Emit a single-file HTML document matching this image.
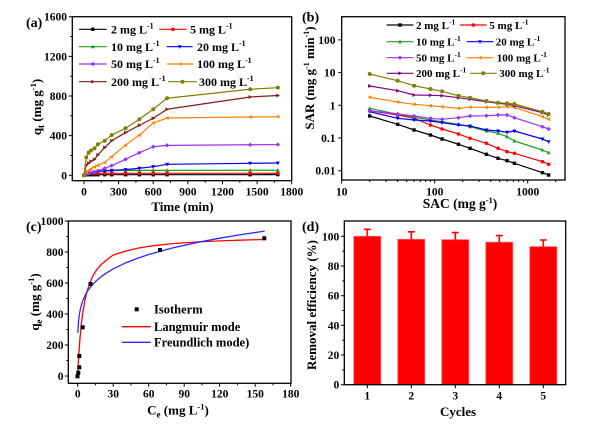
<!DOCTYPE html>
<html><head><meta charset="utf-8"><style>html,body{margin:0;padding:0;background:#fff;}svg{display:block}</style></head>
<body>
<svg width="600" height="427" viewBox="0 0 600 427" xmlns="http://www.w3.org/2000/svg" font-family="'Liberation Serif', serif" font-weight="bold">
<rect width="600" height="427" fill="#fff"/>
<defs>
<marker id="kS" viewBox="-3 -3 6 6" markerWidth="6" markerHeight="6" refX="0" refY="0" markerUnits="userSpaceOnUse" overflow="visible"><rect x="-1.7" y="-1.7" width="3.4" height="3.4" fill="#000"/></marker>
<marker id="rC" viewBox="-3 -3 6 6" markerWidth="6" markerHeight="6" refX="0" refY="0" markerUnits="userSpaceOnUse" overflow="visible"><circle r="1.8" fill="#ff0000"/></marker>
<marker id="gT" viewBox="-3 -3 6 6" markerWidth="6" markerHeight="6" refX="0" refY="0" markerUnits="userSpaceOnUse" overflow="visible"><polygon points="0,-2.2 2,1.5 -2,1.5" fill="#1f9f1f"/></marker>
<marker id="bD" viewBox="-3 -3 6 6" markerWidth="6" markerHeight="6" refX="0" refY="0" markerUnits="userSpaceOnUse" overflow="visible"><polygon points="0,2.2 2,-1.5 -2,-1.5" fill="#0000ff"/></marker>
<marker id="vD" viewBox="-3 -3 6 6" markerWidth="6" markerHeight="6" refX="0" refY="0" markerUnits="userSpaceOnUse" overflow="visible"><polygon points="0,-2.2 2.2,0 0,2.2 -2.2,0" fill="#9b30ff"/></marker>
<marker id="oL" viewBox="-3 -3 6 6" markerWidth="6" markerHeight="6" refX="0" refY="0" markerUnits="userSpaceOnUse" overflow="visible"><polygon points="-2.2,0 1.6,-2 1.6,2" fill="#ff8000"/></marker>
<marker id="mR" viewBox="-3 -3 6 6" markerWidth="6" markerHeight="6" refX="0" refY="0" markerUnits="userSpaceOnUse" overflow="visible"><polygon points="2.2,0 -1.6,-2 -1.6,2" fill="#8b1a1a"/></marker>
<marker id="pR" viewBox="-3 -3 6 6" markerWidth="6" markerHeight="6" refX="0" refY="0" markerUnits="userSpaceOnUse" overflow="visible"><polygon points="2.2,0 -1.6,-2 -1.6,2" fill="#800080"/></marker>
<marker id="lH" viewBox="-3 -3 6 6" markerWidth="6" markerHeight="6" refX="0" refY="0" markerUnits="userSpaceOnUse" overflow="visible"><circle r="2" fill="#808000"/></marker>
</defs>

<!-- ================= Panel (a) ================= -->
<g fill="none" stroke-width="1.2" stroke-linejoin="round">
<polyline stroke="#000" marker-start="url(#kS)" marker-mid="url(#kS)" marker-end="url(#kS)" points="84,175.3 86.31,174.7 88.62,174.7 90.92,174.7 94.39,174.7 97.85,174.7 104.77,174.7 111.69,174.7 125.54,174.7 139.39,174.7 153.23,174.7 167.08,174.7 250.16,174.7 277.86,174.6"/>
<polyline stroke="#ff0000" marker-start="url(#rC)" marker-mid="url(#rC)" marker-end="url(#rC)" points="84,175.3 86.31,173.91 88.62,173.52 90.92,173.32 94.39,173.32 97.85,173.32 104.77,173.32 111.69,173.32 125.54,173.32 139.39,173.32 153.23,173.32 167.08,173.32 250.16,173.32 277.86,173.22"/>
<polyline stroke="#1f9f1f" marker-start="url(#gT)" marker-mid="url(#gT)" marker-end="url(#gT)" points="84,175.3 86.31,173.71 88.62,173.22 90.92,172.72 94.39,172.13 97.85,171.53 104.77,170.94 111.69,170.54 125.54,170.34 139.39,170.34 153.23,170.34 167.08,170.34 250.16,170.24 277.86,170.24"/>
<polyline stroke="#0000ff" marker-start="url(#bD)" marker-mid="url(#bD)" marker-end="url(#bD)" points="84,175.3 86.31,174.31 88.62,173.81 90.92,173.32 94.39,172.33 97.85,171.53 104.77,170.84 111.69,170.34 125.54,169.65 139.39,168.26 153.23,166.68 167.08,164.30 250.16,163.31 277.86,163.01"/>
<polyline stroke="#9b30ff" marker-start="url(#vD)" marker-mid="url(#vD)" marker-end="url(#vD)" points="84,175.3 86.31,174.11 88.62,173.32 90.92,172.52 94.39,171.83 97.85,170.84 104.77,168.36 111.69,165.68 125.54,159.34 139.39,152.70 153.23,146.75 167.08,145.36 250.16,144.77 277.86,144.57"/>
<polyline stroke="#ff8000" marker-start="url(#oL)" marker-mid="url(#oL)" marker-end="url(#oL)" points="84,175.3 86.31,171.83 88.62,170.34 90.92,168.86 94.39,166.87 97.85,165.39 104.77,162.41 111.69,156.66 125.54,145.07 139.39,135.15 153.23,123.06 167.08,118.00 250.16,117.01 277.86,116.81"/>
<polyline stroke="#8b1a1a" marker-start="url(#mR)" marker-mid="url(#mR)" marker-end="url(#mR)" points="84,175.3 86.31,165.09 88.62,163.31 90.92,161.42 94.39,159.34 97.85,154.98 104.77,147.54 111.69,140.70 125.54,132.67 139.39,125.24 153.23,118.30 167.08,109.28 250.16,96.99 277.86,95.50"/>
<polyline stroke="#808000" marker-start="url(#lH)" marker-mid="url(#lH)" marker-end="url(#lH)" points="84,175.3 86.31,157.36 88.62,152.70 90.92,150.52 94.39,148.34 97.85,144.27 104.77,140.70 111.69,135.05 125.54,128.31 139.39,119.29 153.23,109.28 167.08,98.28 250.16,89.25 277.86,87.67"/>
</g>
<rect x="72.3" y="16.7" width="219.4" height="164" fill="none" stroke="#000" stroke-width="1.3"/>
<path stroke="#000" stroke-width="1" fill="none" d="M72.3,175.3H68.8M72.3,135.65H68.8M72.3,96H68.8M72.3,56.34H68.8M72.3,16.7H68.8M72.3,155.5H70.3M72.3,115.8H70.3M72.3,76.2H70.3M72.3,36.5H70.3M84,180.7V184.2M118.6,180.7V184.2M153.2,180.7V184.2M187.85,180.7V184.2M222.5,180.7V184.2M257.1,180.7V184.2M291.7,180.7V184.2M101.3,180.7V182.7M135.9,180.7V182.7M170.5,180.7V182.7M205.2,180.7V182.7M239.8,180.7V182.7M274.4,180.7V182.7"/>
<g font-size="11.5" text-anchor="end" fill="#000">
<text x="67" y="179.3">0</text><text x="67" y="139.65">400</text><text x="67" y="100">800</text><text x="67" y="60.3">1200</text><text x="67" y="20.7">1600</text>
</g>
<g font-size="11.5" text-anchor="middle" fill="#000">
<text x="84" y="195.5">0</text><text x="118.6" y="195.5">300</text><text x="153.2" y="195.5">600</text><text x="187.85" y="195.5">900</text><text x="222.5" y="195.5">1200</text><text x="257.1" y="195.5">1500</text><text x="291.7" y="195.5">1800</text>
</g>
<text x="182.5" y="211" font-size="13" text-anchor="middle">Time (min)</text>
<text transform="translate(41,107) rotate(-90)" font-size="13" text-anchor="middle">q<tspan font-size="9" dy="3">t</tspan><tspan dy="-3"> (mg g</tspan><tspan font-size="8.5" dy="-5">-1</tspan><tspan dy="5">)</tspan></text>
<text x="26" y="27" font-size="14">(a)</text>
<!-- legend a -->
<g fill="none" stroke-width="1.2">
<polyline stroke="#000" marker-mid="url(#kS)" points="79,29.3 92.85,29.3 106.7,29.3"/>
<polyline stroke="#ff0000" marker-mid="url(#rC)" points="159.3,29.3 173,29.3 186.7,29.3"/>
<polyline stroke="#1f9f1f" marker-mid="url(#gT)" points="79,46.7 92.85,46.7 106.7,46.7"/>
<polyline stroke="#0000ff" marker-mid="url(#bD)" points="166.7,46.7 179.7,46.7 192.7,46.7"/>
<polyline stroke="#9b30ff" marker-mid="url(#vD)" points="79,64 92.85,64 106.7,64"/>
<polyline stroke="#ff8000" marker-mid="url(#oL)" points="166.7,64 180,64 193.3,64"/>
<polyline stroke="#8b1a1a" marker-mid="url(#mR)" points="79,81.7 92.85,81.7 106.7,81.7"/>
<polyline stroke="#808000" marker-mid="url(#lH)" points="168,81.7 182.5,81.7 197,81.7"/>
</g>
<g font-size="12" fill="#000">
<text x="111" y="33.5">2 mg L<tspan font-size="8" dy="-5">-1</tspan></text>
<text x="190" y="33.5">5 mg L<tspan font-size="8" dy="-5">-1</tspan></text>
<text x="111" y="50.9">10 mg L<tspan font-size="8" dy="-5">-1</tspan></text>
<text x="197" y="50.9">20 mg L<tspan font-size="8" dy="-5">-1</tspan></text>
<text x="111" y="68.2">50 mg L<tspan font-size="8" dy="-5">-1</tspan></text>
<text x="197" y="68.2">100 mg L<tspan font-size="8" dy="-5">-1</tspan></text>
<text x="111" y="85.9">200 mg L<tspan font-size="8" dy="-5">-1</tspan></text>
<text x="199" y="85.9">300 mg L<tspan font-size="8" dy="-5">-1</tspan></text>
</g>

<!-- ================= Panel (b) ================= -->
<g fill="none" stroke-width="1.2" stroke-linejoin="round">
<polyline stroke="#000" marker-start="url(#kS)" marker-mid="url(#kS)" marker-end="url(#kS)" points="369.70,116 397.69,124.3 414.07,130 430.44,135 442.06,139 458.44,144.3 470.06,148.3 486.44,154.3 498.06,158.3 507.07,160.7 514.43,163.3 542.43,172.7 548.65,175"/>
<polyline stroke="#ff0000" marker-start="url(#rC)" marker-mid="url(#rC)" marker-end="url(#rC)" points="369.70,110.7 397.69,115 414.07,118.3 430.44,125 442.06,129 458.44,134 470.06,138.3 486.44,143.3 498.06,148.3 507.07,151.7 514.43,153.3 542.43,161.7 548.65,164.3"/>
<polyline stroke="#1f9f1f" marker-start="url(#gT)" marker-mid="url(#gT)" marker-end="url(#gT)" points="369.70,108.3 397.69,114.3 414.07,117.3 430.44,120 442.06,121.7 458.44,124.3 470.06,126.7 486.44,131 498.06,133.3 507.07,136.7 514.43,141 542.43,150 548.65,152.7"/>
<polyline stroke="#0000ff" marker-start="url(#bD)" marker-mid="url(#bD)" marker-end="url(#bD)" points="369.70,111.7 397.69,118.3 414.07,120 430.44,121 442.06,122.7 458.44,125 470.06,126 486.44,130 498.06,131 507.07,132.3 514.43,131 542.43,139 548.65,141.7"/>
<polyline stroke="#9b30ff" marker-start="url(#vD)" marker-mid="url(#vD)" marker-end="url(#vD)" points="369.70,110.7 397.69,114 414.07,116 430.44,118.3 442.06,119.3 458.44,117.7 470.06,116 486.44,115.7 498.06,115 507.07,115 514.43,117.7 542.43,126.7 548.65,129"/>
<polyline stroke="#ff8000" marker-start="url(#oL)" marker-mid="url(#oL)" marker-end="url(#oL)" points="369.70,97.3 397.69,102 414.07,104.3 430.44,105.7 442.06,106.7 458.44,108.3 470.06,107.3 486.44,107.3 498.06,107.3 507.07,106.7 514.43,107.3 542.43,116.7 548.65,119.3"/>
<polyline stroke="#800080" marker-start="url(#pR)" marker-mid="url(#pR)" marker-end="url(#pR)" points="369.70,86 397.69,90.7 414.07,95 430.44,95.3 442.06,95.7 458.44,97.7 470.06,99.3 486.44,101.7 498.06,103.3 507.07,104.3 514.43,105.7 542.43,112.7 548.65,115"/>
<polyline stroke="#808000" marker-start="url(#lH)" marker-mid="url(#lH)" marker-end="url(#lH)" points="369.70,74 397.69,80.7 414.07,85.7 430.44,89 442.06,91.3 458.44,95.7 470.06,97.7 486.44,101 498.06,102.7 507.07,103.3 514.43,104 542.43,111.7 548.65,114"/>
</g>
<rect x="341.7" y="16.7" width="223.3" height="163.3" fill="none" stroke="#000" stroke-width="1.3"/>
<path stroke="#000" stroke-width="1" fill="none" d="M341.7,39.9H338.2M341.7,72.6H338.2M341.7,105.3H338.2M341.7,138H338.2M341.7,170.7H338.2M341.7,180V183.5M434.7,180V183.5M527.7,180V183.5M369.7,180V182M386.07,180V182M397.69,180V182M406.7,180V182M414.07,180V182M420.29,180V182M425.68,180V182M430.44,180V182M462.7,180V182M479.07,180V182M490.69,180V182M499.7,180V182M507.07,180V182M513.29,180V182M518.68,180V182M523.44,180V182M555.7,180V182"/>
<g font-size="11.5" text-anchor="end" fill="#000">
<text x="335.5" y="43.9">100</text><text x="335.5" y="76.6">10</text><text x="335.5" y="109.3">1</text><text x="335.5" y="142">0.1</text><text x="335.5" y="174.7">0.01</text>
</g>
<g font-size="11.5" text-anchor="middle" fill="#000">
<text x="341.7" y="195.5">10</text><text x="434.7" y="195.5">100</text><text x="527.7" y="195.5">1000</text>
</g>
<text x="460" y="208" font-size="13.5" text-anchor="middle">SAC (mg g<tspan font-size="8.5" dy="-5">-1</tspan><tspan dy="5">)</tspan></text>
<text transform="translate(314,78) rotate(-90)" font-size="13" text-anchor="middle">SAR (mg g<tspan font-size="8" dy="-5">-1</tspan><tspan dy="5"> min</tspan><tspan font-size="8" dy="-5">-1</tspan><tspan dy="5">)</tspan></text>
<text x="302" y="21.5" font-size="14">(b)</text>
<!-- legend b -->
<g fill="none" stroke-width="1.2">
<polyline stroke="#000" marker-mid="url(#kS)" points="386.7,25 400,25 413.3,25"/>
<polyline stroke="#ff0000" marker-mid="url(#rC)" points="460,25 473.3,25 486.7,25"/>
<polyline stroke="#1f9f1f" marker-mid="url(#gT)" points="386.7,41.7 400,41.7 413.3,41.7"/>
<polyline stroke="#0000ff" marker-mid="url(#bD)" points="466.7,41.7 480,41.7 493.3,41.7"/>
<polyline stroke="#9b30ff" marker-mid="url(#vD)" points="386.7,57.7 400,57.7 413.3,57.7"/>
<polyline stroke="#ff8000" marker-mid="url(#oL)" points="466.7,57.7 480,57.7 493.3,57.7"/>
<polyline stroke="#800080" marker-mid="url(#pR)" points="386.7,73.3 400,73.3 413.3,73.3"/>
<polyline stroke="#808000" marker-mid="url(#lH)" points="470,73.3 483.3,73.3 496.7,73.3"/>
</g>
<g font-size="11" fill="#000">
<text x="416" y="28.8">2 mg L<tspan font-size="7.5" dy="-4.5">-1</tspan></text>
<text x="489.3" y="28.8">5 mg L<tspan font-size="7.5" dy="-4.5">-1</tspan></text>
<text x="416" y="45.5">10 mg L<tspan font-size="7.5" dy="-4.5">-1</tspan></text>
<text x="495.7" y="45.5">20 mg L<tspan font-size="7.5" dy="-4.5">-1</tspan></text>
<text x="416" y="61.5">50 mg L<tspan font-size="7.5" dy="-4.5">-1</tspan></text>
<text x="496.7" y="61.5">100 mg L<tspan font-size="7.5" dy="-4.5">-1</tspan></text>
<text x="416" y="77.1">200 mg L<tspan font-size="7.5" dy="-4.5">-1</tspan></text>
<text x="499.3" y="77.1">300 mg L<tspan font-size="7.5" dy="-4.5">-1</tspan></text>
</g>

<!-- ================= Panel (c) ================= -->
<g fill="none" stroke-width="1.3" stroke-linejoin="round">
<polyline stroke="#ff0000" points="77.7,376 78.29,363.76 78.88,353.48 80.07,337.16 81.25,324.79 82.43,315.09 84.8,300.86 87.17,290.92 89.53,283.59 93.08,275.59 96.63,269.86 101.37,264.34 107.28,259.49 113.2,255 125.03,251.35 136.87,248.39 148.7,246.33 172.36,243.66 196.03,242 219.7,240.87 243.36,240.07 264.66,239.49"/>
<polyline stroke="#2b2bff" points="77.94,332.99 78.05,329.69 78.29,325.18 78.59,321.29 78.88,318.34 79.47,313.92 80.07,310.59 81.25,305.57 82.43,301.79 84.8,296.11 87.17,291.8 89.53,288.32 93.08,284.04 96.63,280.5 101.37,276.54 107.28,272.41 113.2,268.93 125.03,263.16 136.87,258.49 148.7,254.53 172.36,248 196.03,242.68 219.7,238.19 243.36,234.27 264.66,231.12"/>
</g>
<g fill="#000">
<rect x="75.5" y="374.3" width="4" height="4"/>
<rect x="76.3" y="370.7" width="4" height="4"/>
<rect x="77.3" y="365.3" width="4" height="4"/>
<rect x="77.3" y="354" width="4" height="4"/>
<rect x="80.7" y="325.3" width="4" height="4"/>
<rect x="88.5" y="282" width="4" height="4"/>
<rect x="158" y="248" width="4" height="4"/>
<rect x="262.3" y="236.3" width="4" height="4"/>
</g>
<rect x="68.3" y="221" width="222.7" height="162.3" fill="none" stroke="#000" stroke-width="1.3"/>
<path stroke="#000" stroke-width="1" fill="none" d="M68.3,376H64.8M68.3,345H64.8M68.3,314H64.8M68.3,283H64.8M68.3,252H64.8M68.3,221H64.8M68.3,360.5H66.3M68.3,329.5H66.3M68.3,298.5H66.3M68.3,267.5H66.3M68.3,236.5H66.3M77.7,383.3V386.8M113.2,383.3V386.8M148.7,383.3V386.8M184.2,383.3V386.8M219.7,383.3V386.8M255.2,383.3V386.8M290.7,383.3V386.8M95.45,383.3V385.3M130.95,383.3V385.3M166.45,383.3V385.3M201.95,383.3V385.3M237.45,383.3V385.3M272.95,383.3V385.3"/>
<g font-size="11.5" text-anchor="end" fill="#000">
<text x="63.5" y="380">0</text><text x="63.5" y="349">200</text><text x="63.5" y="318">400</text><text x="63.5" y="287">600</text><text x="63.5" y="256">800</text><text x="63.5" y="225">1000</text>
</g>
<g font-size="11.5" text-anchor="middle" fill="#000">
<text x="77.7" y="397.5">0</text><text x="113.2" y="397.5">30</text><text x="148.7" y="397.5">60</text><text x="184.2" y="397.5">90</text><text x="219.7" y="397.5">120</text><text x="255.2" y="397.5">150</text><text x="290.7" y="397.5">180</text>
</g>
<text x="178" y="414.5" font-size="13" text-anchor="middle">C<tspan font-size="9" dy="3">e</tspan><tspan dy="-3"> (mg L</tspan><tspan font-size="8.5" dy="-5">-1</tspan><tspan dy="5">)</tspan></text>
<text transform="translate(39,302) rotate(-90)" font-size="13" text-anchor="middle">q<tspan font-size="9" dy="3">e</tspan><tspan dy="-3"> (mg g</tspan><tspan font-size="8.5" dy="-5">-1</tspan><tspan dy="5">)</tspan></text>
<text x="26" y="231" font-size="14">(c)</text>
<rect x="134.7" y="307.3" width="4" height="4" fill="#000"/>
<line x1="121.7" y1="326.7" x2="150.7" y2="326.7" stroke="#ff0000" stroke-width="1.4"/>
<line x1="121.7" y1="342.3" x2="150.7" y2="342.3" stroke="#2b2bff" stroke-width="1.4"/>
<g font-size="12.5" fill="#000">
<text x="154" y="313.5">Isotherm</text>
<text x="154" y="331">Langmuir mode</text>
<text x="154" y="346.5">Freundlich mode)</text>
</g>

<!-- ================= Panel (d) ================= -->
<g fill="#ff0000" stroke="#ff5a5a" stroke-width="0.8">
<rect x="353.8" y="236.3" width="27" height="148.4"/>
<rect x="397.8" y="239.3" width="27" height="145.4"/>
<rect x="441.8" y="239.7" width="27" height="145"/>
<rect x="485.8" y="242.2" width="27" height="142.5"/>
<rect x="529.8" y="246.7" width="27" height="138"/>
</g>
<path stroke="#ff0000" stroke-width="1.6" fill="none" d="M367.3,236.3V229.3M363.8,229.3H370.8M411.3,239.3V231.8M407.8,231.8H414.8M455.3,239.7V232.6M451.8,232.6H458.8M499.3,242.2V235.6M495.8,235.6H502.8M543.3,246.7V240M539.8,240H546.8"/>
<rect x="344.3" y="221" width="221.4" height="163.7" fill="none" stroke="#000" stroke-width="1.3"/>
<path stroke="#000" stroke-width="1" fill="none" d="M344.3,384.7H340.8M344.3,355H340.8M344.3,325.3H340.8M344.3,295.7H340.8M344.3,266H340.8M344.3,236.3H340.8M344.3,369.9H342.3M344.3,340.2H342.3M344.3,310.5H342.3M344.3,280.9H342.3M344.3,251.2H342.3M367.3,384.7V388.2M411.3,384.7V388.2M455.3,384.7V388.2M499.3,384.7V388.2M543.3,384.7V388.2"/>
<g font-size="11.5" text-anchor="end" fill="#000">
<text x="339.3" y="388.7">0</text><text x="339.3" y="359">20</text><text x="339.3" y="329.3">40</text><text x="339.3" y="299.7">60</text><text x="339.3" y="270">80</text><text x="339.3" y="240.3">100</text>
</g>
<g font-size="11.5" text-anchor="middle" fill="#000">
<text x="367.3" y="399.7">1</text><text x="411.3" y="399.7">2</text><text x="455.3" y="399.7">3</text><text x="499.3" y="399.7">4</text><text x="543.3" y="399.7">5</text>
</g>
<text x="458" y="416" font-size="13" text-anchor="middle">Cycles</text>
<text transform="translate(316,305) rotate(-90)" font-size="13" text-anchor="middle">Removal efficiency (%)</text>
<text x="302" y="231" font-size="14">(d)</text>
</svg>
</body></html>
